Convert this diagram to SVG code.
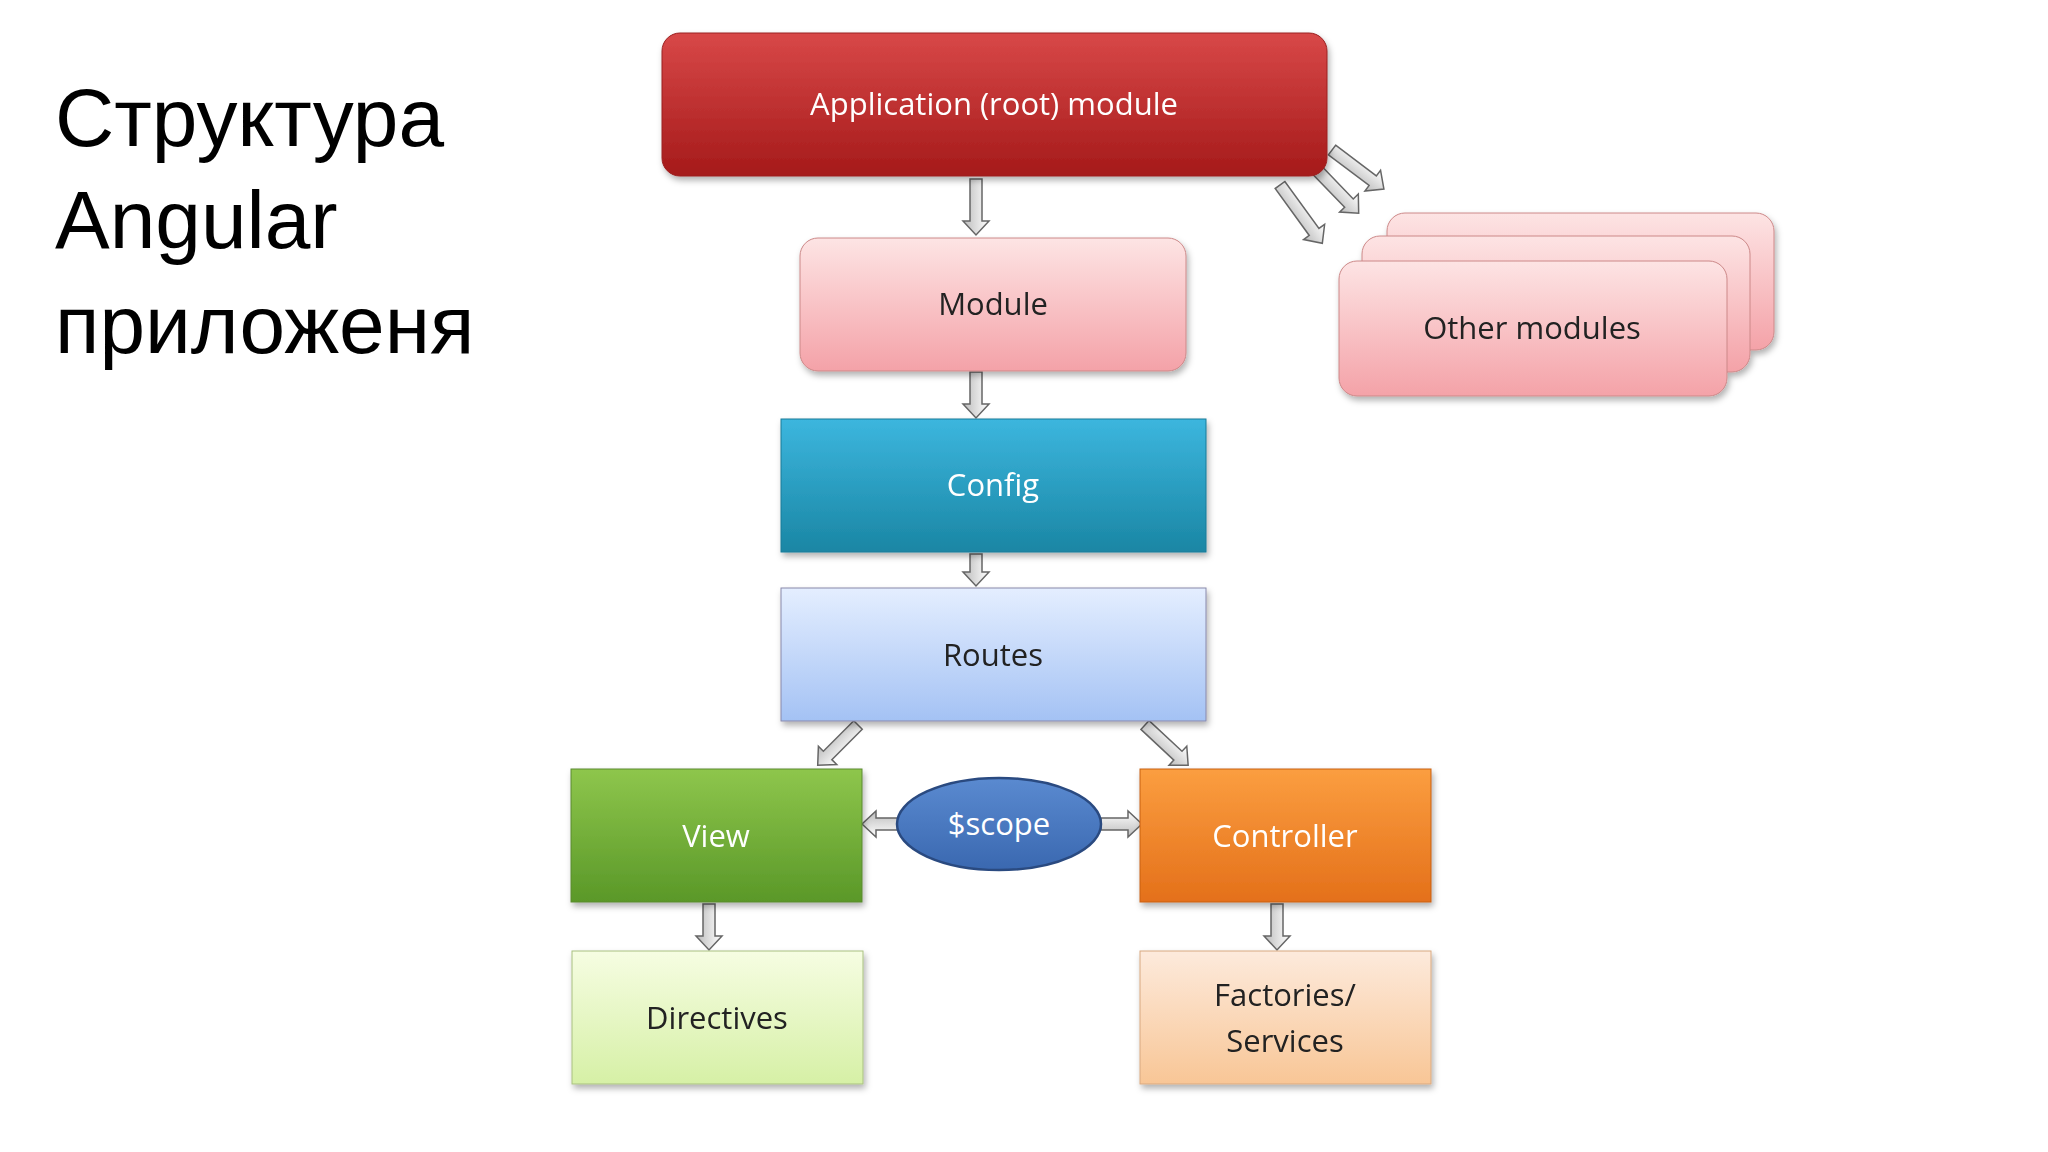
<svg xmlns="http://www.w3.org/2000/svg" width="2048" height="1152" viewBox="0 0 2048 1152">
<style>
.t{font-family:"Open Sans","Liberation Sans",sans-serif;font-size:31px;text-anchor:middle}
.w{fill:#fff}.d{fill:#222}
.ttl{font-family:"Liberation Sans",Arial,sans-serif;font-size:82px;fill:#000}
.ar{fill:url(#ga);stroke:#666;stroke-width:1.5}
.sh{filter:url(#fs)}
</style>
<defs>
<filter id="fs" x="-10%" y="-10%" width="125%" height="130%"><feDropShadow dx="2" dy="4" stdDeviation="3" flood-color="#000" flood-opacity="0.3"/></filter>
<linearGradient id="ga" x1="0" y1="0" x2="0" y2="1"><stop offset="0" stop-color="#fff"/><stop offset="1" stop-color="#bbb"/></linearGradient>
<linearGradient id="g1" x1="0" y1="0" x2="0" y2="1"><stop offset="0" stop-color="#d84848"/><stop offset="1" stop-color="#a51a1a"/></linearGradient>
<linearGradient id="g2" x1="0" y1="0" x2="0" y2="1"><stop offset="0" stop-color="#fde4e4"/><stop offset="1" stop-color="#f4a2a8"/></linearGradient>
<linearGradient id="g3" x1="0" y1="0" x2="0" y2="1"><stop offset="0" stop-color="#3cb6de"/><stop offset="1" stop-color="#1a86a4"/></linearGradient>
<linearGradient id="g4" x1="0" y1="0" x2="0" y2="1"><stop offset="0" stop-color="#e4eeff"/><stop offset="1" stop-color="#a4c2f4"/></linearGradient>
<linearGradient id="g5" x1="0" y1="0" x2="0" y2="1"><stop offset="0" stop-color="#8ec64c"/><stop offset="1" stop-color="#5a9828"/></linearGradient>
<linearGradient id="g6" x1="0" y1="0" x2="0" y2="1"><stop offset="0" stop-color="#fb9e40"/><stop offset="1" stop-color="#e4701a"/></linearGradient>
<linearGradient id="g7" x1="0" y1="0" x2="0" y2="1"><stop offset="0" stop-color="#f6fde2"/><stop offset="1" stop-color="#d6f0a6"/></linearGradient>
<linearGradient id="g8" x1="0" y1="0" x2="0" y2="1"><stop offset="0" stop-color="#fdeadc"/><stop offset="1" stop-color="#f8c696"/></linearGradient>
<linearGradient id="g9" x1="0" y1="0" x2="0" y2="1"><stop offset="0" stop-color="#5a8ad0"/><stop offset="1" stop-color="#3a68b0"/></linearGradient>
</defs>
<rect width="2048" height="1152" fill="#fff"/>
<g id="title"><text class="ttl" x="55" y="146">Структура</text><text class="ttl" x="55" y="248">Angular</text><text class="ttl" x="55" y="353">приложеня</text></g>
<g id="connectors">
<path class="ar" transform="translate(976,179) rotate(90)" d="M0,-6L42,-6L42,-13L56,0L42,13L42,6L0,6Z"/>
<path class="ar" transform="translate(976,372) rotate(90)" d="M0,-6L32,-6L32,-13L46,0L32,13L32,6L0,6Z"/>
<path class="ar" transform="translate(976,554) rotate(90)" d="M0,-6L18,-6L18,-13L32,0L18,13L18,6L0,6Z"/>
<path class="ar" transform="translate(709,904) rotate(90)" d="M0,-6L32,-6L32,-13L46,0L32,13L32,6L0,6Z"/>
<path class="ar" transform="translate(1277,904) rotate(90)" d="M0,-6L32,-6L32,-13L46,0L32,13L32,6L0,6Z"/>
<path class="ar" transform="translate(858,725) rotate(135)" d="M0,-6L43,-6L43,-13L57,0L43,13L43,6L0,6Z"/>
<path class="ar" transform="translate(1145,725) rotate(43)" d="M0,-6L45,-6L45,-13L59,0L45,13L45,6L0,6Z"/>
<path class="ar" transform="translate(901,824) rotate(180)" d="M0,-6L25,-6L25,-13L39,0L25,13L25,6L0,6Z"/>
<path class="ar" transform="translate(1101,824)" d="M0,-6L27,-6L27,-13L41,0L27,13L27,6L0,6Z"/>
<path class="ar" transform="translate(1280,185) rotate(54)" d="M0,-6L58,-6L58,-13L72,0L58,13L58,6L0,6Z"/>
<path class="ar" transform="translate(1317,170) rotate(46)" d="M0,-6L46,-6L46,-13L60,0L46,13L46,6L0,6Z"/>
<path class="ar" transform="translate(1332,150) rotate(37)" d="M0,-6L51,-6L51,-13L65,0L51,13L51,6L0,6Z"/>
</g>
<g id="app" class="sh"><rect x="662" y="33" width="665" height="143" rx="18" fill="url(#g1)" stroke="#9a2020"/><text class="t w" x="994" y="115">Application (root) module</text></g>
<g id="module" class="sh"><rect x="800" y="238" width="386" height="133" rx="18" fill="url(#g2)" stroke="#c88"/><text class="t d" x="993" y="315">Module</text></g>
<g id="others" class="sh">
<rect x="1387" y="213" width="387" height="137" rx="18" fill="url(#g2)" stroke="#c88"/>
<rect x="1362" y="236" width="388" height="136" rx="18" fill="url(#g2)" stroke="#c88"/>
<rect x="1339" y="261" width="388" height="135" rx="18" fill="url(#g2)" stroke="#c88"/>
<text class="t d" x="1532" y="339">Other modules</text></g>
<g id="config" class="sh"><rect x="781" y="419" width="425" height="133" fill="url(#g3)" stroke="#1a7a98"/><text class="t w" x="993" y="496">Config</text></g>
<g id="routes" class="sh"><rect x="781" y="588" width="425" height="133" fill="url(#g4)" stroke="#88a"/><text class="t d" x="993" y="666">Routes</text></g>
<g id="view" class="sh"><rect x="571" y="769" width="291" height="133" fill="url(#g5)" stroke="#5a8a30"/><text class="t w" x="716" y="847">View</text></g>
<g id="scope"><ellipse cx="999" cy="824" rx="102" ry="46" fill="url(#g9)" stroke="#2a4a80" stroke-width="2.5"/><text class="t w" x="999" y="835">$scope</text></g>
<g id="controller" class="sh"><rect x="1140" y="769" width="291" height="133" fill="url(#g6)" stroke="#c86010"/><text class="t w" x="1285" y="847">Controller</text></g>
<g id="directives" class="sh"><rect x="572" y="951" width="291" height="133" fill="url(#g7)" stroke="#a8c080"/><text class="t d" x="717" y="1029">Directives</text></g>
<g id="factories" class="sh"><rect x="1140" y="951" width="291" height="133" fill="url(#g8)" stroke="#d8a880"/><text class="t d" x="1285" y="1006">Factories/</text><text class="t d" x="1285" y="1052">Services</text></g>
</svg>
